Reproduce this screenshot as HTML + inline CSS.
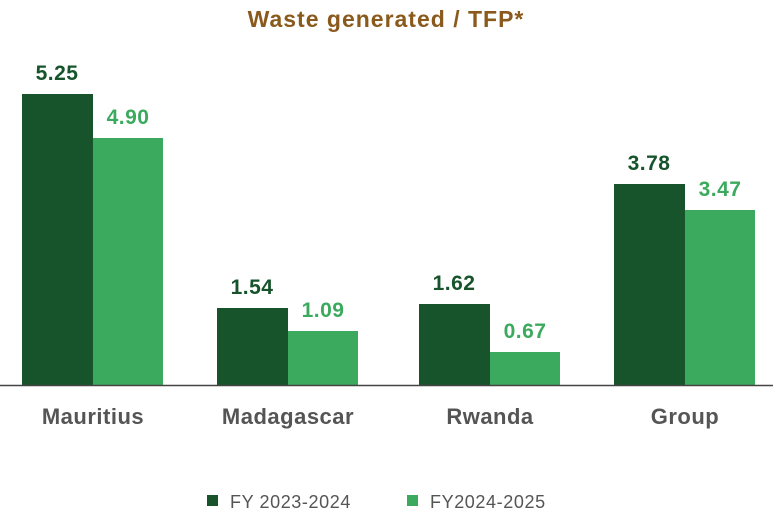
<!DOCTYPE html>
<html><head><style>body{margin:0;background:#fff;}</style></head><body>
<svg width="773" height="511" xmlns="http://www.w3.org/2000/svg" font-family="Liberation Sans, sans-serif">
<text x="386" y="27" text-anchor="middle" font-size="23" font-weight="bold" fill="#8a5a1c" letter-spacing="1">Waste generated / TFP*</text>
<g fill="#17542b">
<rect x="22" y="94" width="71" height="291"/>
<rect x="217" y="308" width="71" height="77"/>
<rect x="419" y="304" width="71" height="81"/>
<rect x="614" y="184" width="71" height="201"/>
</g>
<g fill="#3caa5e">
<rect x="93" y="138" width="70" height="247"/>
<rect x="288" y="331" width="70" height="54"/>
<rect x="490" y="352" width="70" height="33"/>
<rect x="685" y="210" width="70" height="175"/>
</g>
<line x1="0" y1="385.5" x2="773" y2="385.5" stroke="#444" stroke-width="1.5"/>
<g font-size="21" font-weight="bold" text-anchor="middle" fill="#17542b" letter-spacing="0.5">
<text x="57" y="80">5.25</text><text x="252" y="294">1.54</text><text x="454" y="290">1.62</text><text x="649" y="170">3.78</text>
</g>
<g font-size="21" font-weight="bold" text-anchor="middle" fill="#3caa5e" letter-spacing="0.5">
<text x="128" y="124">4.90</text><text x="323" y="317">1.09</text><text x="525" y="338">0.67</text><text x="720" y="196">3.47</text>
</g>
<g font-size="22" font-weight="bold" text-anchor="middle" fill="#555" letter-spacing="0.5">
<text x="93" y="424">Mauritius</text><text x="288" y="424">Madagascar</text><text x="490" y="424">Rwanda</text><text x="685" y="424">Group</text>
</g>
<rect x="207" y="495" width="11" height="11" fill="#17542b"/>
<rect x="407" y="495" width="11" height="11" fill="#3caa5e"/>
<g font-size="18" fill="#555" letter-spacing="0.6"><text x="230" y="508">FY 2023-2024</text><text x="430" y="508">FY2024-2025</text></g>
</svg>
</body></html>
